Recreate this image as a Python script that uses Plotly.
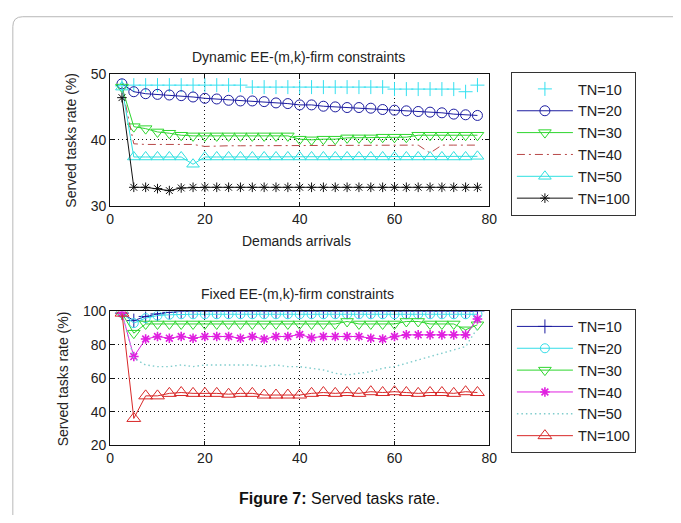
import plotly.graph_objects as go

# ---------------- data ----------------
x_arrivals = [2.5, 5, 7.5, 10, 12.5, 15, 17.5, 20, 22.5, 25, 27.5, 30, 32.5, 35, 37.5, 40,
              42.5, 45, 47.5, 50, 52.5, 55, 57.5, 60, 62.5, 65, 67.5, 70, 72.5, 75, 77.5]

series_names = ["TN=10", "TN=20", "TN=30", "TN=40", "TN=50", "TN=100"]

# Dynamic EE-(m,k)-firm constraints
dyn_tn10 = [48.2, 48.3, 48.3, 48.3, 48.3, 48.3, 48.3, 48.3, 48.3, 48.3, 48.3,
            48.0, 48.0, 48.0, 48.0, 48.0, 48.0, 48.0, 48.0, 48.0, 48.0, 48.0, 48.0,
            47.7, 47.7, 47.7, 47.7, 47.7, 47.7, 47.3, 48.3]
dyn_tn20 = [48.5, 47.3, 47.0, 46.9, 46.8, 46.7, 46.5, 46.3, 46.2, 46.0, 45.9, 45.9, 45.8,
            45.6, 45.5, 45.3, 45.3, 45.1, 45.0, 44.9, 44.9, 44.8, 44.6, 44.5, 44.4, 44.3,
            44.2, 44.1, 43.9, 43.8, 43.7]
dyn_tn30 = [48.0, 42.0, 41.7, 41.2, 41.0, 40.7, 40.6, 40.6, 40.6, 40.6, 40.6, 40.6, 40.6,
            40.6, 40.6, 40.1, 40.0, 40.1, 40.1, 40.3, 40.3, 40.3, 40.4, 40.4, 40.4, 40.7,
            40.7, 40.7, 40.7, 40.7, 40.7]
dyn_tn40 = [48.0, 39.4, 39.3, 39.3, 39.3, 39.3, 39.3, 39.0, 39.1, 39.1, 39.1, 39.1, 39.1,
            39.1, 39.1, 39.1, 39.1, 39.1, 39.1, 39.1, 39.2, 39.2, 39.2, 39.2, 39.2, 39.2,
            38.0, 39.2, 39.2, 39.2, 39.2]
dyn_tn50 = [48.0, 37.4, 37.4, 37.4, 37.4, 37.4, 36.3, 37.4, 37.4, 37.4, 37.4, 37.4, 37.4,
            37.4, 37.4, 37.4, 37.4, 37.4, 37.4, 37.4, 37.4, 37.4, 37.4, 37.4, 37.4, 37.4,
            37.4, 37.4, 37.4, 37.4, 37.5]
dyn_tn100 = [46.4, 32.8, 32.8, 32.6, 32.3, 32.7, 32.8, 32.8, 32.8, 32.8, 32.8, 32.8, 32.8,
             32.8, 32.8, 32.8, 32.8, 32.8, 32.8, 32.8, 32.8, 32.8, 32.8, 32.8, 32.8, 32.8,
             32.8, 32.8, 32.8, 32.8, 32.8]

# Fixed EE-(m,k)-firm constraints
fix_tn10 = [99.0, 94.5, 97.0, 98.5, 99.5, 100, 100, 100, 100, 100, 100, 100, 100, 100, 100,
            100, 100, 100, 100, 100, 100, 100, 100, 100, 100, 100, 100, 100, 100, 100, 100]
fix_tn20 = [99.0, 93.0, 96.0, 97.5, 98.0, 98.3, 98.3, 98.3, 98.3, 98.3, 98.3, 98.3, 98.3,
            98.3, 98.3, 98.3, 98.3, 98.3, 98.3, 98.3, 98.3, 98.3, 98.3, 98.3, 98.3, 98.3,
            98.3, 98.3, 98.3, 98.3, 98.3]
fix_tn30 = [99.0, 87.0, 92.5, 92.5, 92.5, 92.5, 92.5, 92.5, 92.5, 92.5, 92.5, 92.5, 92.5,
            92.5, 92.5, 92.5, 92.5, 92.5, 92.5, 94.0, 92.5, 92.5, 92.5, 92.5, 94.0, 94.0,
            92.5, 92.5, 92.5, 89.0, 92.0]
fix_tn40 = [99.0, 73.0, 83.5, 85.0, 84.0, 85.0, 84.0, 85.0, 85.0, 85.0, 84.0, 85.0, 83.5,
            85.0, 85.0, 86.2, 84.3, 85.0, 85.0, 85.0, 85.0, 84.0, 83.5, 85.0, 86.0, 86.0,
            86.0, 86.0, 86.0, 86.0, 95.5]
fix_tn50 = [99.0, 72.0, 68.0, 67.0, 67.0, 68.0, 67.0, 68.0, 68.0, 68.0, 68.0, 68.0, 67.0,
            68.0, 67.0, 67.0, 66.0, 65.0, 63.0, 62.0, 63.0, 64.0, 66.0, 67.0, 69.0, 71.0,
            73.0, 75.0, 77.0, 79.0, 90.0]
fix_tn100 = [99.0, 36.0, 49.5, 49.5, 51.0, 51.5, 51.0, 51.0, 51.0, 50.5, 51.0, 51.0, 50.0,
             50.0, 50.0, 50.0, 51.0, 51.5, 51.0, 51.5, 51.0, 52.0, 51.5, 52.0, 51.5, 51.0,
             51.5, 51.5, 51.0, 52.0, 51.5]

x_ticks = [0, 20, 40, 60, 80]
dyn_yticks = [30, 40, 50]
fix_yticks = [20, 40, 60, 80, 100]

# ---------------- figure ----------------
W, H = 681, 523
FONT = "Liberation Sans, Arial, Helvetica, sans-serif"
TXT = "#222222"

fig = go.Figure()

def add(xs, ys, name, color, symbol=None, msize=10, dash="solid", xa="x", ya="y",
        legend="legend", lw=1.0, mlw=1.0, mode=None):
    if mode is None:
        mode = "lines+markers" if symbol else "lines"
    tr = dict(x=xs, y=ys, name=name, mode=mode, xaxis=xa, yaxis=ya, legend=legend,
              line=dict(color=color, width=lw, dash=dash))
    if symbol:
        tr["marker"] = dict(symbol=symbol, size=msize, color=color,
                            line=dict(color=color, width=mlw))
    fig.add_trace(go.Scatter(**tr))

# top panel
add(x_arrivals, dyn_tn10, series_names[0], "#33e0f0", "cross-thin", 10, mode="markers")
add(x_arrivals, dyn_tn20, series_names[1], "#1c1ca0", "circle-open", 10)
add(x_arrivals, dyn_tn30, series_names[2], "#2ed62e", "triangle-down-open", 11)
add(x_arrivals, dyn_tn40, series_names[3], "#b84848", None, dash="8px,4px,2px,4px")
add(x_arrivals, dyn_tn50, series_names[4], "#2ee0e0", "triangle-up-open", 11)
add(x_arrivals, dyn_tn100, series_names[5], "#111111", "asterisk-open", 8)

# bottom panel
kw = dict(xa="x2", ya="y2", legend="legend2")
add(x_arrivals, fix_tn10, series_names[0], "#1c1ca0", "cross-thin", 10, **kw)
add(x_arrivals, fix_tn20, series_names[1], "#33dde8", "circle-open", 9, **kw)
add(x_arrivals, fix_tn30, series_names[2], "#2ed62e", "triangle-down-open", 11, **kw)
add(x_arrivals, fix_tn40, series_names[3], "#e020e0", "asterisk-open", 8, mlw=1.6, **kw)
add(x_arrivals, fix_tn50, series_names[4], "#7fcccc", None, dash="1.5px,3px", lw=1.4, **kw)
add(x_arrivals, fix_tn100, series_names[5], "#d82828", "triangle-up-open", 12, **kw)

def px_x(p):
    return p / W

def px_y(p):
    return 1 - p / H

axis_common = dict(
    showline=True, linecolor="#111111", linewidth=1, mirror="ticks",
    ticks="inside", ticklen=4, tickcolor="#111111",
    showgrid=True, gridcolor="#111111", gridwidth=1, griddash="1px,3px",
    zeroline=False, tickfont=dict(family=FONT, size=14, color=TXT),
)

legend_common = dict(xanchor="left", yanchor="top", bordercolor="#333333", borderwidth=1,
                     bgcolor="white", font=dict(family=FONT, size=14.5, color=TXT),
                     itemwidth=56, tracegroupgap=0)

fig.update_layout(
    width=W, height=H,
    margin=dict(l=0, r=0, t=0, b=0),
    paper_bgcolor="white", plot_bgcolor="white",
    font=dict(family=FONT, color=TXT),
    xaxis=dict(domain=[px_x(108), px_x(494)], range=[0, 80], tickvals=x_ticks,
               anchor="y", **axis_common),
    yaxis=dict(domain=[px_y(204), px_y(68)], range=[30, 50], tickvals=dyn_yticks,
               anchor="x", **axis_common),
    xaxis2=dict(domain=[px_x(108), px_x(494)], range=[0, 80], tickvals=x_ticks,
                anchor="y2", **axis_common),
    yaxis2=dict(domain=[px_y(451), px_y(313)], range=[20, 100], tickvals=fix_yticks,
                anchor="x2", **axis_common),
    legend=dict(x=px_x(516), y=px_y(66), **legend_common),
    legend2=dict(x=px_x(516), y=px_y(311), **legend_common),
    showlegend=True,
)

ann = [
    dict(text="Dynamic EE-(m,k)-firm constraints", x=px_x(300), y=px_y(51), size=14),
    dict(text="Demands arrivals", x=px_x(298), y=px_y(240), size=14),
    dict(text="Fixed EE-(m,k)-firm constraints", x=px_x(299), y=px_y(295), size=14),
    dict(text="<b>Figure 7:</b> Served tasks rate.", x=px_x(342), y=px_y(506), size=16,
         color="#111111"),
]
for a in ann:
    fig.add_annotation(text=a["text"], x=a["x"], y=a["y"], xref="paper", yref="paper",
                       showarrow=False, xanchor="center", yanchor="middle",
                       font=dict(family=FONT, size=a["size"], color=a.get("color", TXT)))

for yc, xc in [(136, 68), (382, 60)]:
    fig.add_annotation(text="Served tasks rate (%)", x=px_x(xc), y=px_y(yc),
                       xref="paper", yref="paper", showarrow=False, textangle=-90,
                       xanchor="center", yanchor="middle",
                       font=dict(family=FONT, size=14, color=TXT))

# rounded frame (top and left edges)
x0, xc = px_x(9), px_x(19)
yt, yc = px_y(9), px_y(19)
fig.add_shape(type="path", xref="paper", yref="paper",
              path=f"M {x0},0 L {x0},{yc} Q {x0},{yt} {xc},{yt} L 1,{yt}",
              line=dict(color="#b8b8b8", width=1))

fig.write_html("out.html")
